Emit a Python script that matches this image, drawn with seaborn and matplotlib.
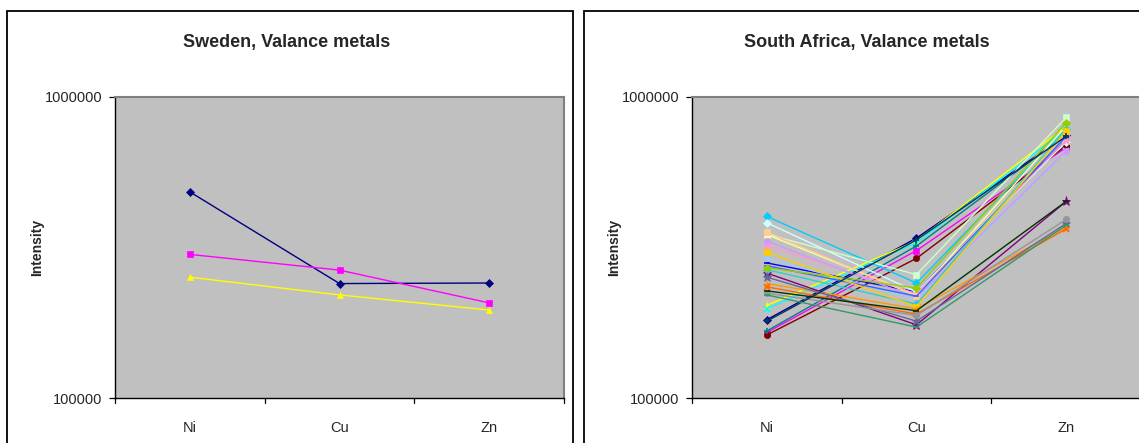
import matplotlib
matplotlib.use("Agg")
import matplotlib.pyplot as plt
import seaborn as sns
import numpy as np
import pandas as pd
from matplotlib.patches import Rectangle

sns.set_theme(style="white")
plt.rcParams['font.family'] = ['Liberation Sans', 'DejaVu Sans']

elements = ["Ni", "Cu", "Zn"]

# Sweden
sweden_names = ["S1", "S2", "S3"]
sweden_colors = ["#000080", "#FF00FF", "#FFFF00"]
sweden_markers = ["D", "s", "^"]
sweden_values = [
    [484000, 240000, 241000],
    [300000, 266000, 207000],
    [252000, 220000, 196000],
]

# South Africa
sa_colors = ["#000080", "#FF00FF", "#FFFF00", "#00FFFF", "#800080", "#800000", "#008080",
             "#0000FF", "#00CCFF", "#CCFFFF", "#CCFFCC", "#FFFF99", "#99CCFF", "#FF99CC",
             "#CC99FF", "#FFCC99", "#3366FF", "#33CCCC", "#99CC00", "#FFCC00", "#FF9900",
             "#FF6600", "#666699", "#969696", "#003366", "#339966", "#003300"]
sa_markers = ["D", "s", "^", "x", "*", "o", "+",
              "_", "D", "D", "s", "^", "x", "*",
              "o", "s", "_", "D", "D", "s", "^",
              "x", "*", "o", "+", "_", "_"]
sa_values = [
    [182000, 340000, 745000],
    [165000, 309000, 680000],
    [203000, 332000, 800000],
    [198000, 328000, 780000],
    [260000, 175000, 450000],
    [162000, 291000, 690000],
    [167000, 320000, 750000],
    [281000, 225000, 720000],
    [401000, 241000, 785000],
    [382000, 225000, 710000],
    [350000, 257000, 855000],
    [349000, 220000, 800000],
    [292000, 212000, 660000],
    [321000, 222000, 720000],
    [332000, 215000, 662000],
    [356000, 218000, 760000],
    [275000, 218000, 740000],
    [267000, 205000, 780000],
    [271000, 232000, 821000],
    [305000, 201000, 771000],
    [240000, 198000, 370000],
    [234000, 190000, 365000],
    [252000, 180000, 380000],
    [223000, 188000, 392000],
    [180000, 335000, 740000],
    [220000, 172000, 375000],
    [227000, 195000, 450000],
]

W, H = 1139, 443
fig = plt.figure(figsize=(W / 100, H / 100), dpi=100)
fig.patch.set_facecolor("white")

TICK_FS = 10.5
TITLE_FS = 13
LABEL_FS = 10

# chart boxes
for x0, x1 in [(7, 573), (584, 1160)]:
    fig.patches.append(Rectangle((x0 / W, -0.1), (x1 - x0) / W, (H - 11) / H + 0.1,
                                 transform=fig.transFigure, fill=False,
                                 edgecolor="#000000", linewidth=1.3))


def style_axes(ax, title, title_x):
    ax.set_facecolor("#C0C0C0")
    ax.set_yscale("log")
    ax.set_ylim(1e5, 1e6)
    ax.set_xlim(-0.5, 2.5)
    ax.set_yticks([1e5, 1e6])
    ax.set_yticklabels(["100000", "1000000"], fontsize=TICK_FS)
    ax.minorticks_off()
    ax.yaxis.set_minor_locator(matplotlib.ticker.NullLocator())
    ax.set_xticks([0, 1, 2])
    ax.set_xticklabels(elements, fontsize=TICK_FS)
    ax.tick_params(axis="x", length=0, pad=16.5)
    for xb in [-0.5, 0.5, 1.5, 2.5]:
        ax.plot([xb, xb], [1e5, 10 ** (5 - 5 / 300)], color="black", lw=0.9, clip_on=False)
    ax.tick_params(axis="y", length=4, width=0.9, color="black", left=True, pad=5)
    for s in ["left", "bottom"]:
        ax.spines[s].set_color("black")
        ax.spines[s].set_linewidth(1.0)
    for s in ["top", "right"]:
        ax.spines[s].set_color("#808080")
        ax.spines[s].set_linewidth(1.5)
    ax.set_xlabel("")
    ax.set_ylabel("Intensity", fontsize=LABEL_FS, fontweight="bold", va="center")
    ax.yaxis.set_label_coords(-78 / 448, 0.5)
    fig.text(title_x / W, 1 - 43 / H, title, ha="center", va="center",
             fontsize=TITLE_FS, fontweight="bold")


def draw(ax, values, colors, markers):
    for i, (vals, c, m) in enumerate(zip(values, colors, markers)):
        df = pd.DataFrame({"x": [0, 1, 2], "y": vals})
        sns.lineplot(data=df, x="x", y="y", ax=ax, color=c, linewidth=1.0,
                     marker=m, markersize=4.5 if m not in ("*",) else 6.5,
                     markeredgecolor=c, markerfacecolor=c,
                     markeredgewidth=1.2 if m in ("x", "+", "_") else 0.5,
                     legend=False, sort=False)


ax1 = fig.add_axes([115 / W, 1 - 398 / H, 449 / W, 301 / H])
draw(ax1, sweden_values, sweden_colors, sweden_markers)
style_axes(ax1, "Sweden, Valance metals", 287)

ax2 = fig.add_axes([692 / W, 1 - 398 / H, 449 / W, 301 / H])
draw(ax2, sa_values, sa_colors, sa_markers)
style_axes(ax2, "South Africa, Valance metals", 867)

fig.savefig("out.png", dpi=100)
